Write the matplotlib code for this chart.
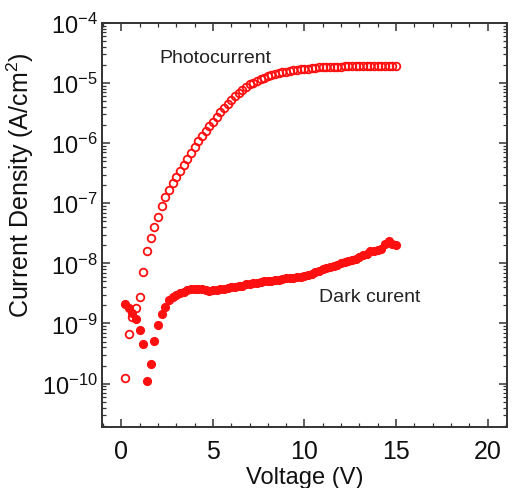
import numpy as np
import matplotlib
matplotlib.use("Agg")
import matplotlib.pyplot as plt
from matplotlib.ticker import MultipleLocator, LogLocator, FixedLocator, FixedFormatter, NullFormatter

plt.rcParams['font.family'] = ['Liberation Sans', 'DejaVu Sans']
plt.rcParams['mathtext.fontset'] = 'custom'
plt.rcParams['mathtext.rm'] = 'Liberation Sans'
plt.rcParams['mathtext.it'] = 'Liberation Sans:italic'
plt.rcParams['mathtext.bf'] = 'Liberation Sans:bold'

# ---- data ----
voltage_photo = [round(0.2 * i, 1) for i in range(1, 76)]
photocurrent = [
    1.26e-10, 6.6e-10, 1.26e-9, 1.78e-9, 2.75e-9, 7.2e-9, 1.58e-8, 2.63e-8, 3.98e-8, 6.0e-8,
    8.9e-8, 1.26e-7, 1.66e-7, 2.14e-7, 2.75e-7, 3.47e-7, 4.37e-7, 5.5e-7, 6.9e-7, 8.7e-7,
    1.10e-6, 1.32e-6, 1.58e-6, 1.91e-6, 2.29e-6, 2.75e-6, 3.24e-6, 3.80e-6, 4.47e-6, 5.25e-6,
    6.0e-6, 6.9e-6, 7.8e-6, 8.7e-6, 9.5e-6, 1.02e-5, 1.10e-5, 1.17e-5, 1.23e-5, 1.29e-5,
    1.35e-5, 1.41e-5, 1.48e-5, 1.51e-5, 1.55e-5, 1.58e-5, 1.62e-5, 1.66e-5, 1.70e-5, 1.74e-5,
    1.74e-5, 1.78e-5, 1.78e-5, 1.82e-5, 1.82e-5, 1.82e-5, 1.86e-5, 1.86e-5, 1.86e-5, 1.86e-5,
    1.91e-5, 1.91e-5, 1.91e-5, 1.91e-5, 1.91e-5, 1.91e-5, 1.95e-5, 1.95e-5, 1.95e-5, 1.95e-5,
    1.95e-5, 1.95e-5, 1.95e-5, 1.95e-5, 1.95e-5,
]
voltage_dark = [round(0.2 * i, 1) for i in range(1, 76)]
dark_current = [
    2.14e-9, 1.82e-9, 1.48e-9, 1.17e-9, 7.8e-10, 4.6e-10, 1.10e-10, 2.1e-10, 5.1e-10, 9.3e-10,
    1.45e-9, 1.86e-9, 2.45e-9, 2.75e-9, 3.02e-9, 3.24e-9, 3.39e-9, 3.55e-9, 3.72e-9, 3.80e-9,
    3.80e-9, 3.72e-9, 3.55e-9, 3.47e-9, 3.55e-9, 3.63e-9, 3.72e-9, 3.80e-9, 3.89e-9, 3.98e-9,
    4.07e-9, 4.17e-9, 4.27e-9, 4.47e-9, 4.57e-9, 4.68e-9, 4.79e-9, 4.90e-9, 5.01e-9, 5.13e-9,
    5.13e-9, 5.25e-9, 5.37e-9, 5.50e-9, 5.62e-9, 5.62e-9, 5.75e-9, 5.89e-9, 6.03e-9, 6.17e-9,
    6.46e-9, 6.76e-9, 7.08e-9, 7.59e-9, 7.94e-9, 8.32e-9, 8.71e-9, 9.12e-9, 9.55e-9, 1.00e-8,
    1.05e-8, 1.10e-8, 1.15e-8, 1.20e-8, 1.26e-8, 1.38e-8, 1.45e-8, 1.58e-8, 1.58e-8, 1.70e-8,
    1.74e-8, 2.09e-8, 2.40e-8, 2.09e-8, 2.04e-8,
]
x_ticks = [0, 5, 10, 15, 20]
y_ticks = [1e-10, 1e-9, 1e-8, 1e-7, 1e-6, 1e-5, 1e-4]
y_tick_labels = [r'$\mathregular{10^{-10}}$', r'$\mathregular{10^{-9}}$', r'$\mathregular{10^{-8}}$',
                 r'$\mathregular{10^{-7}}$', r'$\mathregular{10^{-6}}$', r'$\mathregular{10^{-5}}$',
                 r'$\mathregular{10^{-4}}$']

fig = plt.figure(figsize=(5.13, 4.89), dpi=100)
ax = fig.add_axes([0.199, 0.125, 0.789, 0.826])

red = '#ff1010'
ax.plot(voltage_photo, photocurrent, linestyle='none', marker='o', markersize=5.5,
        markerfacecolor='none', markeredgecolor=red, markeredgewidth=1.3)
ax.plot(voltage_dark, dark_current, linestyle='none', marker='o', markersize=5.8,
        markerfacecolor=red, markeredgecolor=red, markeredgewidth=0.8)

ax.set_yscale('log')
ax.set_xlim(-1.05, 21.05)
ax.set_ylim(10**-10.72, 1e-4)

ax.xaxis.set_major_locator(FixedLocator(x_ticks))
ax.xaxis.set_minor_locator(MultipleLocator(1))
ax.yaxis.set_major_locator(FixedLocator(y_ticks))
ax.yaxis.set_major_formatter(FixedFormatter(y_tick_labels))
ax.yaxis.set_minor_locator(LogLocator(base=10, subs=np.arange(2, 10), numticks=20))
ax.yaxis.set_minor_formatter(NullFormatter())

ax.tick_params(which='both', direction='in', top=True, right=True, colors='#333333',
               labelcolor='#111111')
ax.tick_params(which='major', length=6, width=1.1)
ax.tick_params(axis='x', which='major', pad=9, labelsize=18)
ax.tick_params(axis='y', which='major', pad=3, labelsize=17)
ax.tick_params(which='minor', length=3, width=0.9)
for s in ax.spines.values():
    s.set_linewidth(1.4)
    s.set_color('#333333')

ax.set_xlabel('Voltage (V)', fontsize=17, color='#111111')
ax.xaxis.set_label_coords(0.5, -0.096)
ax.set_ylabel(r'Current Density (A/cm$^{\mathregular{2}}$)', fontsize=18, color='#111111')
ax.yaxis.set_label_coords(-0.163, 0.6)

ax.text(2.1, 10**-4.57, 'Photocurrent', fontsize=14, color='#222222', va='center', ha='left')
ax.text(10.8, 10**-8.55, 'Dark curent', fontsize=14, color='#222222', va='center', ha='left')

fig.savefig('out.png', dpi=100)
